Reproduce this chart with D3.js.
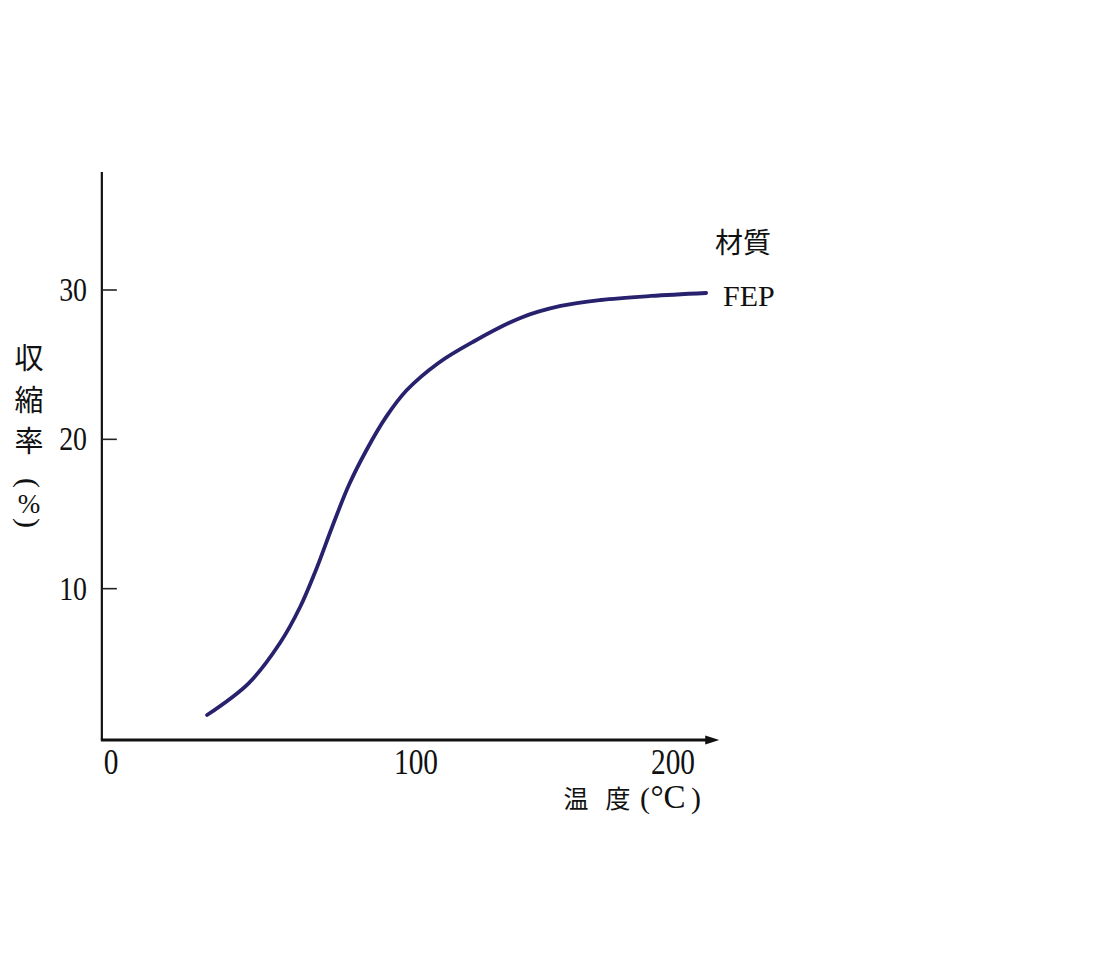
<!DOCTYPE html>
<html><head><meta charset="utf-8">
<script src="https://cdn.jsdelivr.net/npm/d3@7"></script>
<style>body{margin:0;background:#fff}</style>
</head><body>
<svg id="c" width="1114" height="980"></svg>
<script>
// Data
const temperature = [31.5, 45.2, 55.4, 62.0, 67.2, 72.5, 78.0, 83.6, 90.2, 97.0, 108.6, 121.9, 140.6, 156.3, 171.9, 191.4, 212.9];
const shrinkage   = [1.54, 3.68, 6.36, 8.77, 11.25, 14.13, 16.94, 19.22, 21.5, 23.3, 25.1, 26.5, 28.13, 28.93, 29.33, 29.6, 29.8];
const xTicks = [0, 100, 200];
const yTicks = [10, 20, 30];
const xTitleChars = ["温", "度"];
const xTitleUnit = ["(", "°C", ")"];
const yTitleChars = ["収", "縮", "率"];
const yTitleUnit = ["(", "%", ")"];
const legendTitle = "材質";
const seriesName = "FEP";

const svg = d3.select("#c");
const x = d3.scaleLinear().domain([0, 100, 200]).range([111, 416, 673]);
const y = d3.scaleLinear().domain([0, 30]).range([738, 290]);

const x0 = x(-3), xEnd = x(218);
const yTop = y(37.9), yBase = 740;
const ink = "#111";

// axes lines
svg.append("line").attr("x1", x0).attr("x2", x0).attr("y1", yTop).attr("y2", yBase)
  .attr("stroke", ink).attr("stroke-width", 2.2);
svg.append("line").attr("x1", x0 - 1).attr("x2", xEnd - 8).attr("y1", yBase).attr("y2", yBase)
  .attr("stroke", ink).attr("stroke-width", 2.8);
svg.append("path").attr("d", `M${xEnd},${yBase} L${xEnd-14},${yBase-4.5} L${xEnd-14},${yBase+4.5} Z`).attr("fill", ink);

// y ticks
svg.selectAll(".yt").data(yTicks).join("line")
  .attr("x1", x0).attr("x2", x0 + 15).attr("y1", d => y(d)).attr("y2", d => y(d))
  .attr("stroke", "#222").attr("stroke-width", 1.6);
svg.selectAll(".yl").data(yTicks).join("text")
  .attr("transform", d => `translate(87,${y(d) + 11}) scale(0.82,1)`).attr("text-anchor", "end")
  .attr("font-family", "Liberation Serif").attr("font-size", 34).attr("fill", ink)
  .text(d => d);

// x tick labels
svg.selectAll(".xl").data(xTicks).join("text")
  .attr("transform", d => `translate(${x(d)},774) scale(0.84,1)`).attr("text-anchor", "middle")
  .attr("font-family", "Liberation Serif").attr("font-size", 35).attr("fill", ink)
  .text(d => d);

// x title
const xt = svg.append("g").attr("fill", ink);
xTitleChars.forEach((ch, i) => {
  xt.append("text").attr("x", 576 + i * 42).attr("y", 808).attr("text-anchor", "middle")
    .attr("font-family", "Noto Sans CJK JP").attr("font-weight", 400).attr("font-size", 25).text(ch);
});
[645, 668, 696].forEach((cx, i) => {
  xt.append("text").attr("x", cx).attr("y", 808).attr("text-anchor", "middle")
    .attr("font-family", "Liberation Serif").attr("font-size", i === 1 ? 33 : 30).text(xTitleUnit[i]);
});

// y title (vertical)
const yt = svg.append("g").attr("fill", ink);
yTitleChars.forEach((ch, i) => {
  yt.append("text").attr("x", 29).attr("y", 369 + i * 41.5).attr("text-anchor", "middle")
    .attr("font-family", "Noto Sans CJK JP").attr("font-weight", 400).attr("font-size", 29).text(ch);
});
yt.append("text").attr("transform", "translate(29,483) rotate(90)").attr("text-anchor", "middle")
  .attr("dominant-baseline", "central").attr("font-family", "Liberation Serif").attr("font-size", 30).text(yTitleUnit[0]);
yt.append("text").attr("x", 29).attr("y", 513).attr("text-anchor", "middle")
  .attr("font-family", "Liberation Serif").attr("font-size", 27).text(yTitleUnit[1]);
yt.append("text").attr("transform", "translate(29,523) rotate(90)").attr("text-anchor", "middle")
  .attr("dominant-baseline", "central").attr("font-family", "Liberation Serif").attr("font-size", 30).text(yTitleUnit[2]);

// curve
const pts = temperature.map((t, i) => [t, shrinkage[i]]);
svg.append("path").datum(pts)
  .attr("d", d3.line().x(d => x(d[0])).y(d => y(d[1])).curve(d3.curveCatmullRom.alpha(0.5)))
  .attr("fill", "none").attr("stroke", "#28226e").attr("stroke-width", 3.8).attr("stroke-linecap", "round");

// legend labels
svg.append("text").attr("x", 743).attr("y", 253).attr("text-anchor", "middle")
  .attr("font-family", "Noto Sans CJK JP").attr("font-weight", 400).attr("font-size", 28).attr("fill", ink)
  .text(legendTitle);
svg.append("text").attr("x", 723).attr("y", 306)
  .attr("font-family", "Liberation Serif").attr("font-size", 30).attr("fill", ink)
  .text(seriesName);
</script>
</body></html>
